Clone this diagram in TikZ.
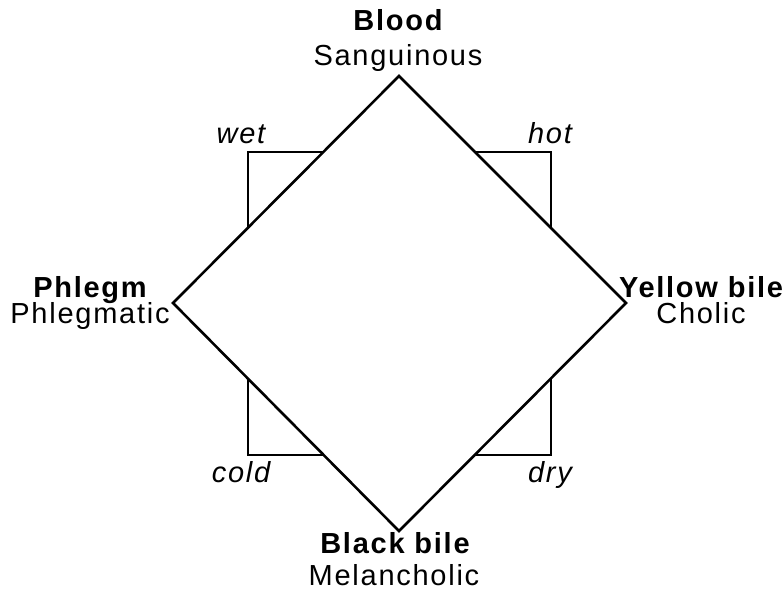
\documentclass[tikz,border=0pt]{standalone}
\usepackage{fontspec}
\setmainfont{Liberation Sans}[LetterSpace=6]
\usepackage{tikz}
\usetikzlibrary{positioning}

\begin{document}
\begin{tikzpicture}[x=0.5pt, y=-0.5pt, font=\fontsize{14.5}{17}\selectfont,
  humour/.style={anchor=base, font=\fontsize{14.5}{17}\selectfont\bfseries},
  temper/.style={anchor=base},
  quality/.style={anchor=base, font=\fontsize{14.5}{17}\selectfont\itshape},
  edge/.style={line width=1.3pt, line join=miter}]
\useasboundingbox (0,0) rectangle (782,591);
% square of qualities, half hidden behind the diamond
\coordinate (W) at (248,152); \coordinate (H) at (551,152);
\coordinate (D) at (551,455); \coordinate (C) at (248,455);
\draw[edge] (W) -- (H) -- (D) -- (C) -- cycle;
% diamond of humours
\coordinate (top) at (399,76); \coordinate (right) at (626,303);
\coordinate (bot) at (399,531); \coordinate (left) at (173,303);
\filldraw[edge, fill=white] (top) -- (right) -- (bot) -- (left) -- cycle;
\node[humour] (blood) at (398,30) {Blood};
\node[temper] (sang) at (398,65) {Sanguinous};
\node[humour] (phl) at (90,297) {Phlegm};
\node[temper] (phlm) at (90,323) {Phlegmatic};
\node[humour] (yb) at (701,297) {Yellow bile};
\node[temper] (chol) at (701,323) {Cholic};
\node[humour] (bb) at (395,553) {Black bile};
\node[temper] (mel) at (394,585) {Melancholic};
\node[quality] (wet) at (241,143) {wet};
\node[quality] (hot) at (550,143) {hot};
\node[quality] (cold) at (241,482) {cold};
\node[quality] (dry) at (550,482) {dry};
\end{tikzpicture}
\end{document}
